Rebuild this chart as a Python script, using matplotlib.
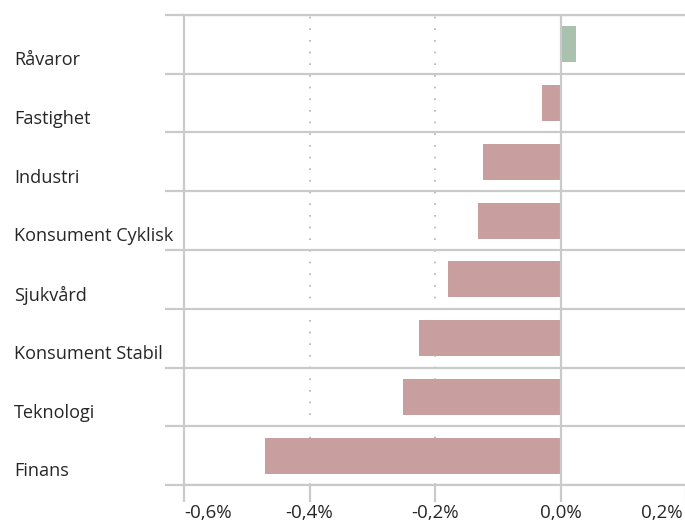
import matplotlib.pyplot as plt
from matplotlib.ticker import FuncFormatter
import matplotlib.transforms as mtransforms

plt.rcParams['font.family'] = ['Open Sans', 'DejaVu Sans']

# Sektorer och avkastning (%)
sektorer = ['Råvaror', 'Fastighet', 'Industri', 'Konsument Cyklisk',
            'Sjukvård', 'Konsument Stabil', 'Teknologi', 'Finans']
avkastning = [0.025, -0.030, -0.123, -0.131, -0.180, -0.225, -0.251, -0.471]
xticks = [-0.6, -0.4, -0.2, 0.0, 0.2]

gron = '#a9c1ad'
rod = '#c99e9e'
linje = '#cacaca'
text = '#262626'

fig = plt.figure(figsize=(6.85, 5.22), dpi=100)
ax = fig.add_axes([184 / 685, 37 / 522, 502 / 685, 470 / 522])

pos = list(range(len(sektorer)))
farger = [gron if v > 0 else rod for v in avkastning]
ax.barh(pos, avkastning, height=0.61, color=farger, zorder=3)

ax.set_xlim(-0.6, 0.2)
ax.set_ylim(len(sektorer) - 0.5, -0.5)

# rad-avgränsare
grans = [i - 0.5 for i in range(len(sektorer) + 1)]
ax.set_yticks(grans)
ax.set_yticklabels([])
ax.yaxis.grid(True, color=linje, lw=1.6, zorder=1)
ax.tick_params(axis='y', length=14, width=1.6, color=linje)

ax.set_xticks(xticks)
ax.xaxis.set_major_formatter(FuncFormatter(lambda v, p: f"{v:.1f}%".replace('.', ',')))
ax.xaxis.grid(True, color='#b0b0b0', lw=1.2, linestyle=(0, (1, 6)), zorder=1)
ax.tick_params(axis='x', length=12, width=1.6, color=linje, labelsize=13.5,
               labelcolor=text, pad=2)
ax.axvline(0, color=linje, lw=1.6, zorder=4)

etiketter = ax.get_xticklabels()
etiketter[0].set_horizontalalignment('left')
etiketter[-1].set_horizontalalignment('right')
etiketter[-1].set_x(0.2)
trans_h = mtransforms.offset_copy(etiketter[-1].get_transform(), fig=fig, x=-3, units='dots')
etiketter[-1].set_transform(trans_h)

ax.spines['right'].set_visible(False)
for s in ['left', 'top', 'bottom']:
    ax.spines[s].set_color(linje)
    ax.spines[s].set_linewidth(1.6)

trans = mtransforms.blended_transform_factory(fig.transFigure, ax.transData)
for i, namn in enumerate(sektorer):
    ax.text(14 / 685, i + 0.27, namn, transform=trans, ha='left', va='center',
            fontsize=13.1, color=text)

fig.savefig('out.png', dpi=100)
